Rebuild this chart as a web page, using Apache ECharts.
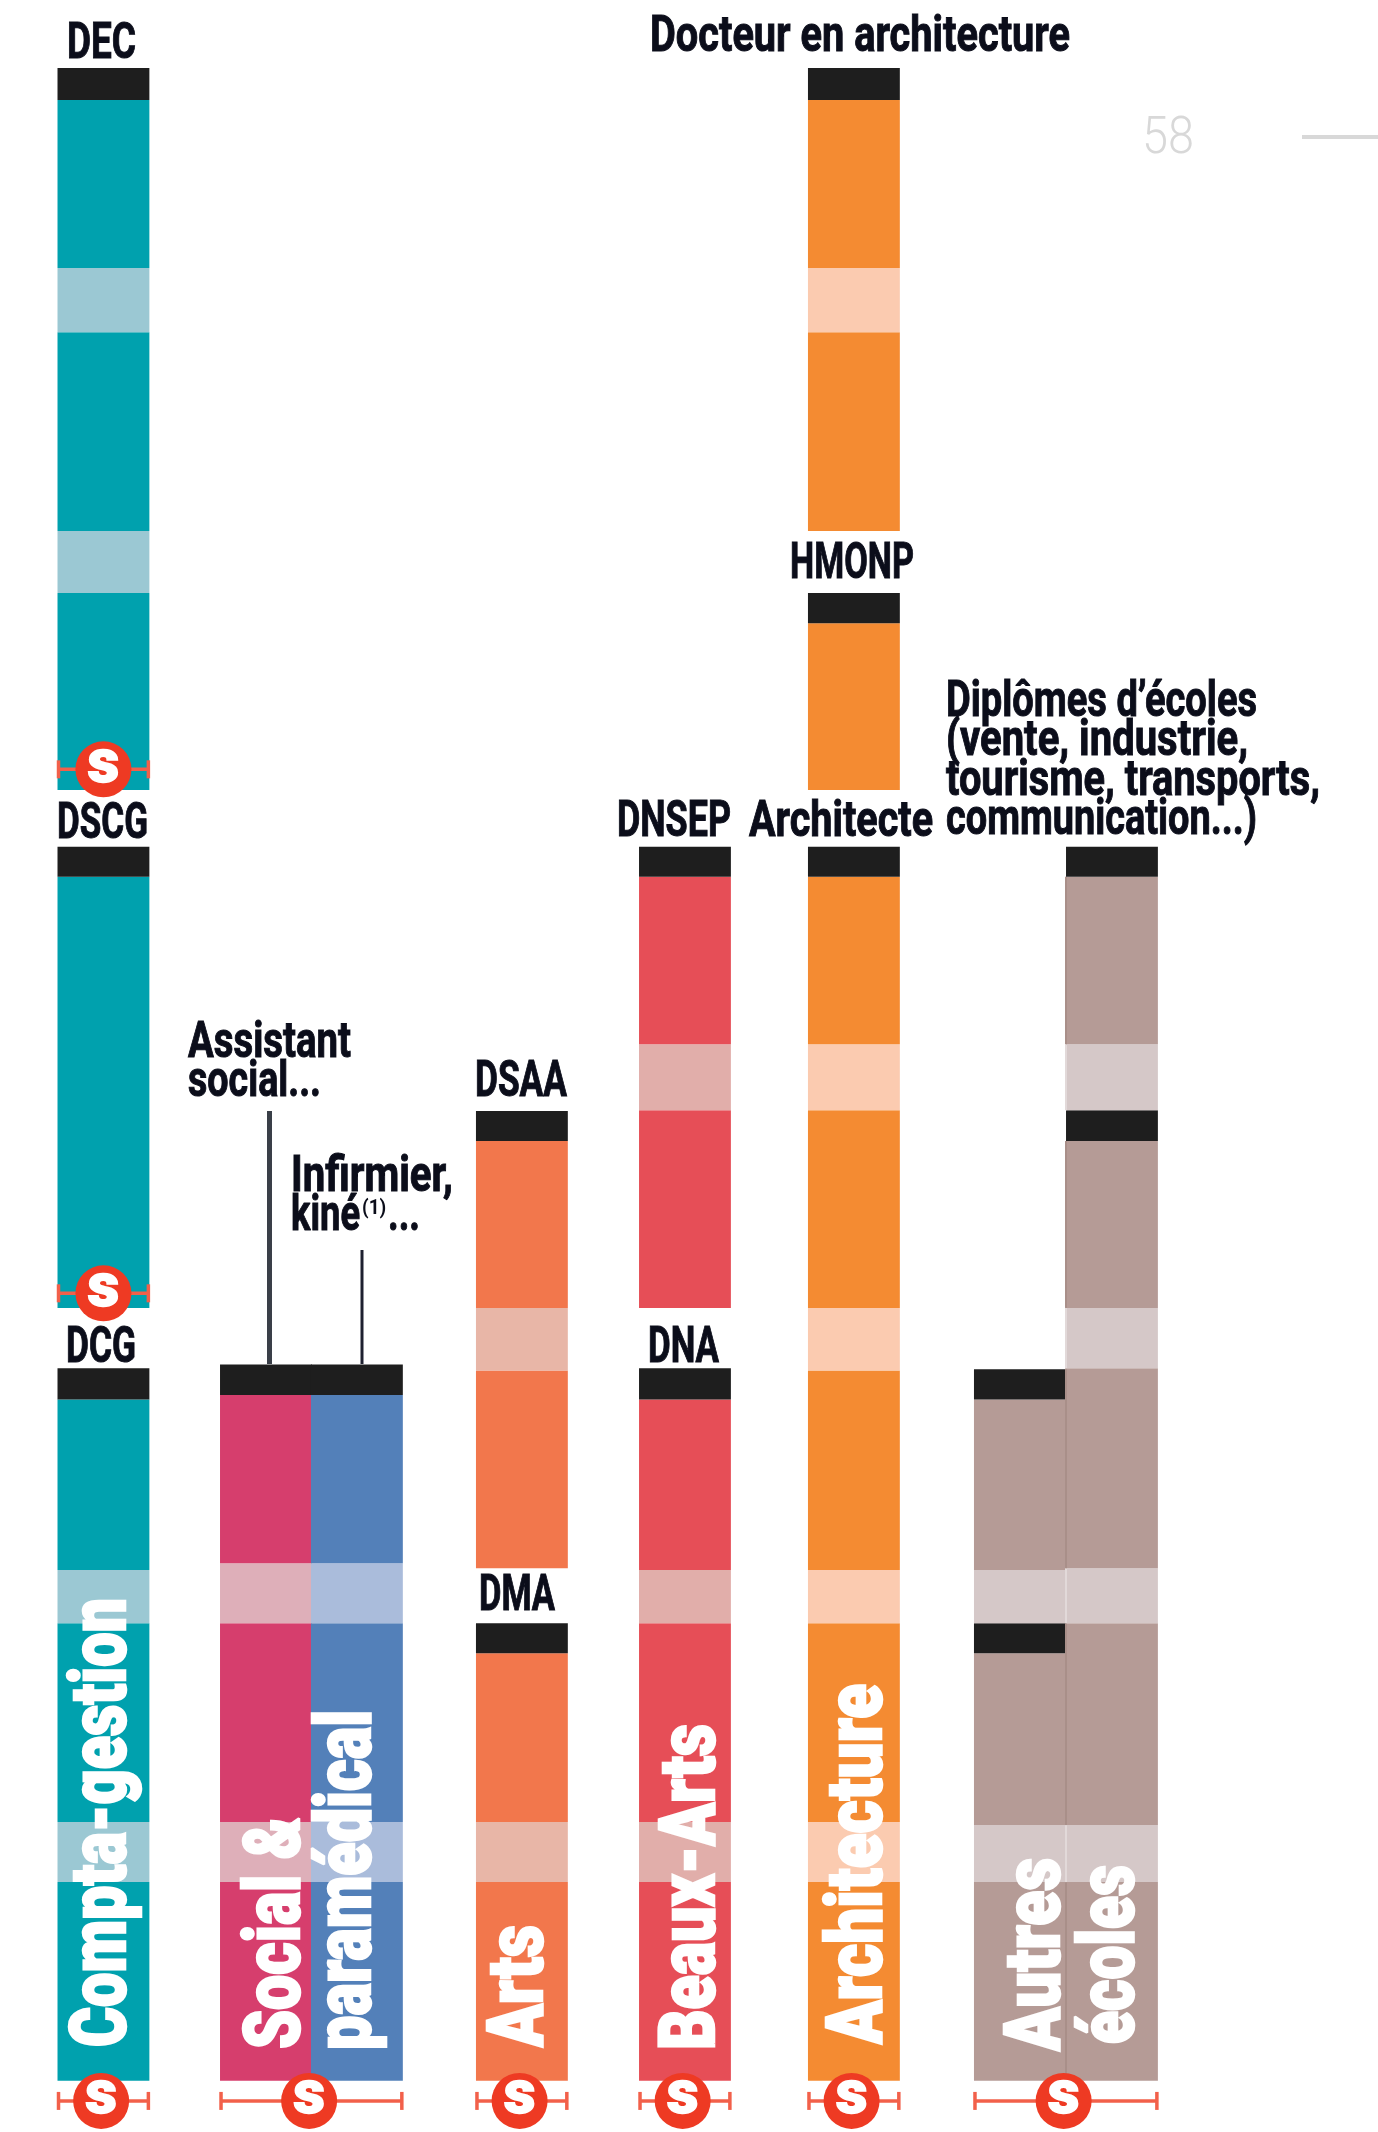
<!DOCTYPE html>
<html>
<head>
<meta charset="utf-8">
<title>Filières et diplômes</title>
<script src="https://cdn.jsdelivr.net/npm/echarts@6/dist/echarts.min.js"></script>
<style>
html, body { margin: 0; padding: 0; background: #fff; }
#chart { width: 1378px; height: 2132px; }
</style>
</head>
<body>
<div id="chart"></div>
<script>
// data: each track is a list of stops, in years of study, and what fills each step
// s = plain year, l = pale band, d = black diploma bar, g = nothing
var comptaStops = [0, 0.773, 1.007, 1.781, 1.988, 2.652, 2.773, 3.008, 4.687, 4.804, 5.024, 5.791, 6.033, 6.807, 7.057, 7.711, 7.835];
var comptaKinds = ['s', 'l', 's', 'l', 's', 'd', 'g', 's', 'd', 'g', 's', 'l', 's', 'l', 's', 'd'];
var socialStops = [0, 0.773, 1.007, 1.781, 2.014, 2.669, 2.788];
var socialKinds = ['s', 'l', 's', 'l', 's', 'd'];
var paramedStops = [0, 0.773, 1.007, 1.781, 2.014, 2.669, 2.788];
var paramedKinds = ['s', 'l', 's', 'l', 's', 'd'];
var artsStops = [0, 0.773, 1.007, 1.664, 1.781, 1.995, 2.765, 3.008, 3.658, 3.775];
var artsKinds = ['s', 'l', 's', 'd', 'g', 's', 'l', 's', 'd'];
var beauxStops = [0, 0.773, 1.007, 1.781, 1.988, 2.652, 2.773, 3.008, 3.778, 4.035, 4.687, 4.804];
var beauxKinds = ['s', 'l', 's', 'l', 's', 'd', 'g', 's', 'l', 's', 'd'];
var archiStops = [0, 0.773, 1.007, 1.781, 1.988, 2.765, 3.008, 3.778, 4.035, 4.687, 4.804, 5.024, 5.674, 5.791, 6.033, 6.807, 7.057, 7.711, 7.835];
var archiKinds = ['s', 'l', 's', 'l', 's', 'l', 's', 'l', 's', 'd', 'g', 's', 'd', 'g', 's', 'l', 's', 'd'];
var autresStops = [0, 0.773, 0.995, 1.664, 1.781, 1.988, 2.652, 2.769];
var autresKinds = ['s', 'l', 's', 'd', 'l', 's', 'd'];
var ecolesStops = [0, 0.773, 0.995, 1.781, 1.995, 2.773, 3.008, 3.658, 3.778, 4.035, 4.687, 4.804];
var ecolesKinds = ['s', 'l', 's', 'l', 's', 'l', 's', 'd', 'l', 's', 'd'];

// selection marks: first track, last track, year
var selFrom = [0, 0, 0, 1, 3, 4, 5, 6];
var selTo = [0, 0, 0, 2, 3, 4, 5, 7];
var selYear = [5.105, 3.065, -0.079, -0.079, -0.079, -0.079, -0.079, -0.079];

// texts
var blackTexts = ['DEC', 'Docteur en architecture', 'HMONP', 'DSCG', 'DNSEP', 'Architecte', 'Diplômes d’écoles', '(vente, industrie,', 'tourisme, transports,', 'communication...)', 'Assistant', 'social...', 'DSAA', 'Infirmier,', 'kiné', '...', 'DCG', 'DNA', 'DMA'];
var whiteTexts = ['Compta-gestion', 'Social &', 'paramédical', 'Arts', 'Beaux-Arts', 'Architecture', 'Autres', 'écoles'];

// layout
var tracks = [
  { stops: comptaStops, kinds: comptaKinds, at: 0.626, solid: '#00a1ae', pale: '#9bc8d3' },
  { stops: socialStops, kinds: socialKinds, at: 2.395, solid: '#d63e6d', pale: '#deafb9' },
  { stops: paramedStops, kinds: paramedKinds, at: 3.385, solid: '#5380b9', pale: '#aabcdb' },
  { stops: artsStops, kinds: artsKinds, at: 5.181, solid: '#f2774c', pale: '#e8b6a7' },
  { stops: beauxStops, kinds: beauxKinds, at: 6.956, solid: '#e64e57', pale: '#e1aeaa' },
  { stops: archiStops, kinds: archiKinds, at: 8.795, solid: '#f48b32', pale: '#fbcbb0' },
  { stops: autresStops, kinds: autresKinds, at: 10.602, solid: '#b59b96', pale: '#d5c8c8' },
  { stops: ecolesStops, kinds: ecolesKinds, at: 11.604, solid: '#b59b96', pale: '#d5c8c8' }
];
// left, right, baseline for each black text
var blackBoxes = [
  [67, 136, 59], [650, 1070, 52], [790, 914, 579], [57, 148, 839], [617, 731, 837], [749, 933, 837],
  [946, 1257, 717], [946, 1248, 756], [946, 1320, 796], [946, 1257, 835],
  [188, 351, 1058], [188, 321, 1097], [475, 567, 1097], [291, 453, 1192], [291, 360, 1231], [388, 420, 1231],
  [66, 136, 1363], [648, 719, 1363], [479, 555, 1611]
];
// bottom, top, baseline x for each white text
var whiteBoxes = [
  [2047, 1598, 126], [2049, 1817, 300], [2050, 1710, 371], [2047, 1925, 543],
  [2050, 1724, 715], [2044, 1684, 882], [2051, 1858, 1060], [2044, 1865, 1134]
];

var measure = document.createElement('canvas').getContext('2d');
function fitScale(text, font, len) {
  measure.font = font;
  return len / measure.measureText(text).width;
}

var blackFont = 'bold 50px Roboto';
var whiteFont = '900 77px Roboto';
var capShift = 0.711 / 2 - 0.09; // baseline to text middle, in em

var marks = [];
tracks.forEach(function (t, ti) {
  t.kinds.forEach(function (k, i) {
    if (k !== 'g') marks.push([t.at, t.stops[i], t.stops[i + 1], k, ti]);
  });
});

var selMarks = selYear.map(function (y, i) {
  return [tracks[selFrom[i]].at, tracks[selTo[i]].at + 1, y];
});
var selDots = selMarks.map(function (m) {
  return [(m[0] + m[1]) / 2 - (m[2] < 0 ? 0.025 : 0), m[2]];
});

var overlay = [];
blackTexts.forEach(function (txt, i) {
  var b = blackBoxes[i];
  overlay.push({
    type: 'text', z: 100, x: b[0], y: b[2] - 50 * capShift,
    scaleX: fitScale(txt, blackFont, b[1] - b[0]),
    style: { text: txt, font: blackFont, fill: '#0b0d1a', stroke: '#0b0d1a', lineWidth: 1, align: 'left', verticalAlign: 'middle' }
  });
});
whiteTexts.forEach(function (txt, i) {
  var b = whiteBoxes[i];
  overlay.push({
    type: 'text', z: 100, x: b[2] - 77 * capShift, y: b[0], rotation: Math.PI / 2,
    scaleX: fitScale(txt, whiteFont, b[0] - b[1]),
    style: { text: txt, font: whiteFont, fill: '#fff', stroke: '#fff', lineWidth: 2.5, align: 'left', verticalAlign: 'middle' }
  });
});
// footnote mark, page number, leader lines
overlay.push({ type: 'text', z: 100, x: 362, y: 1209, scaleX: 0.95, style: { text: '(1)', font: 'bold 20px Roboto', fill: '#0b0d1a', verticalAlign: 'middle' } });
overlay.push({
  type: 'text', z: 100, x: 1142, y: 140, scaleX: fitScale('58', '300 52px Roboto', 52),
  style: { text: '58', font: '300 52px Roboto', fill: '#d8d8d8', verticalAlign: 'middle' }
});
overlay.push({ type: 'rect', z: 100, shape: { x: 1302, y: 135, width: 76, height: 4 }, style: { fill: '#d8d8d8' } });
overlay.push({ type: 'rect', z: 100, shape: { x: 267, y: 1111, width: 5, height: 253 }, style: { fill: '#3a3f48' } });
overlay.push({ type: 'rect', z: 100, shape: { x: 360.5, y: 1250, width: 3, height: 114 }, style: { fill: '#1e2030' } });

var chart = echarts.init(document.getElementById('chart'), null, { renderer: 'canvas' });
chart.setOption({
  animation: false,
  backgroundColor: '#ffffff',
  grid: { left: 0, right: 0, top: 0, bottom: 0 },
  xAxis: { type: 'value', min: 0, max: 15, show: false },
  yAxis: { type: 'value', min: -0.2, max: 8.1, show: false },
  graphic: overlay,
  series: [
    {
      type: 'custom',
      clip: false,
      z: 2,
      data: marks,
      renderItem: function (params, api) {
        var at = api.value(0);
        var lt = api.coord([at, api.value(2)]);
        var rb = api.coord([at + 1, api.value(1)]);
        var k = marks[params.dataIndex][3];
        var t = tracks[marks[params.dataIndex][4]];
        var fill = k === 'd' ? '#1e1e1e' : (k === 'l' ? t.pale : t.solid);
        var rect = { type: 'rect', shape: { x: lt[0], y: lt[1], width: rb[0] - lt[0], height: rb[1] - lt[1] }, style: { fill: fill } };
        // the two school tracks share a thin seam
        if (marks[params.dataIndex][4] === 7 && k !== 'd') {
          return {
            type: 'group',
            children: [rect, {
              type: 'rect',
              shape: { x: lt[0] - 1, y: lt[1], width: 2, height: rb[1] - lt[1] },
              style: { fill: k === 'l' ? '#e2d9d9' : '#a98f89' }
            }]
          };
        }
        return rect;
      }
    },
    {
      type: 'custom',
      clip: false,
      z: 3,
      data: selMarks,
      renderItem: function (params, api) {
        var a = api.coord([api.value(0), api.value(2)]);
        var b = api.coord([api.value(1), api.value(2)]);
        var st = { stroke: '#f2604a', lineWidth: 3.5 };
        return {
          type: 'group',
          children: [
            { type: 'line', shape: { x1: a[0], y1: a[1], x2: b[0], y2: b[1] }, style: st },
            { type: 'line', shape: { x1: a[0] + 1, y1: a[1] - 9, x2: a[0] + 1, y2: a[1] + 9 }, style: st },
            { type: 'line', shape: { x1: b[0] - 1, y1: b[1] - 9, x2: b[0] - 1, y2: b[1] + 9 }, style: st }
          ]
        };
      }
    },
    {
      type: 'scatter',
      z: 4,
      clip: false,
      symbol: 'circle',
      symbolSize: 56,
      data: selDots,
      itemStyle: { color: '#ee3a23', opacity: 1 },
      label: {
        show: true,
        position: 'inside',
        formatter: 's',
        color: '#fff',
        fontFamily: 'Roboto',
        fontWeight: 900,
        fontSize: 62,
        textBorderColor: '#fff',
        textBorderWidth: 1.5,
        offset: [0, -3]
      }
    }
  ]
});
</script>
</body>
</html>
